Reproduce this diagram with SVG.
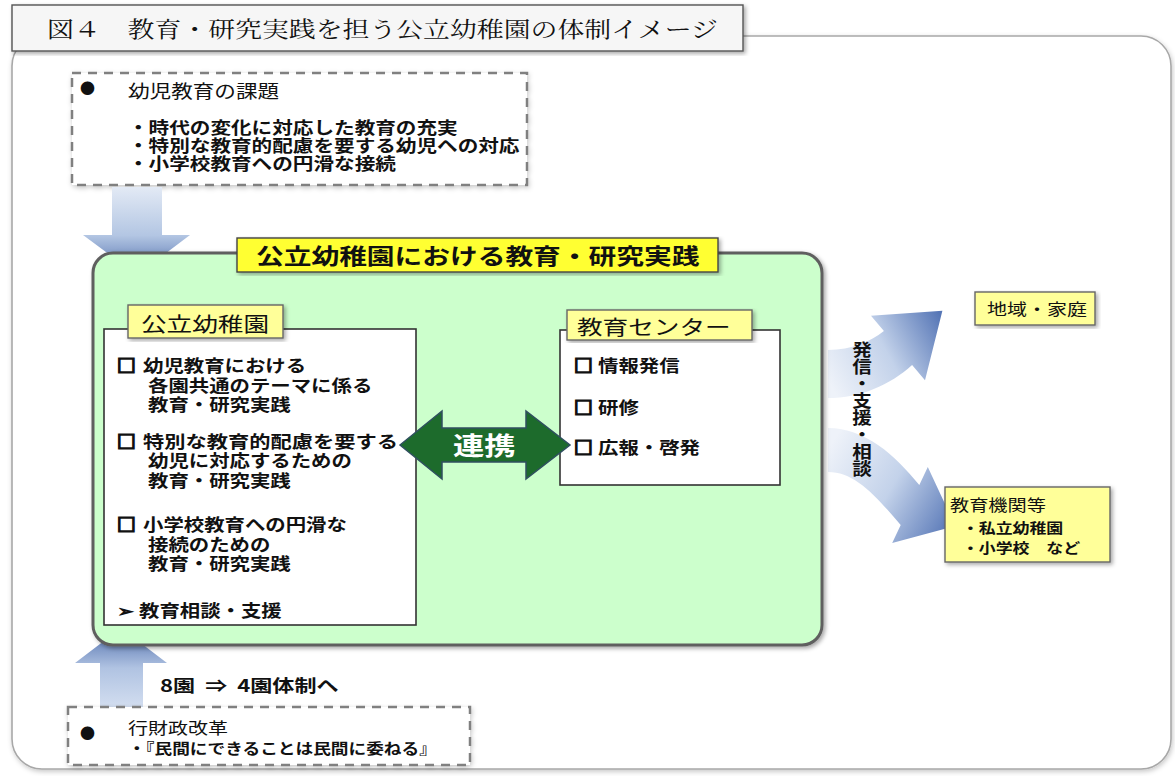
<svg xmlns="http://www.w3.org/2000/svg" width="1175" height="776" viewBox="0 0 1175 776">
<style>
.t{font-family:"Noto Sans CJK JP","Noto Sans",sans-serif;fill:#111}
.b{font-weight:bold}
.ttl{font-family:"Noto Serif CJK JP","Noto Sans CJK JP",serif;fill:#111;font-weight:normal}
.dash{fill:#fff;stroke:#808080;stroke-width:2.5;stroke-dasharray:9 7}
.wbox{fill:#fff;stroke:#333;stroke-width:1.6}
.ylab{fill:#ffff99;stroke:#666;stroke-width:1.4}
.sq{stroke:#111;stroke-width:1.6}
</style>
<defs>
<filter id="sh" x="-5%" y="-5%" width="110%" height="115%">
<feDropShadow dx="2" dy="2" stdDeviation="2" flood-color="#000" flood-opacity="0.35"/>
</filter>
<filter id="sh2" x="-5%" y="-5%" width="110%" height="115%">
<feDropShadow dx="1" dy="2" stdDeviation="2.5" flood-color="#000" flood-opacity="0.22"/>
</filter>
<linearGradient id="gDown" x1="0" y1="0" x2="0" y2="1">
<stop offset="0" stop-color="#e3eaf5"/>
<stop offset="0.55" stop-color="#b3c6e3"/>
<stop offset="1" stop-color="#4d6cab"/>
</linearGradient>
<linearGradient id="gUp" x1="0" y1="1" x2="0" y2="0">
<stop offset="0" stop-color="#d3def0"/>
<stop offset="0.5" stop-color="#b0c3e2"/>
<stop offset="1" stop-color="#4d6cab"/>
</linearGradient>
<linearGradient id="gR1" gradientUnits="userSpaceOnUse" x1="828" y1="380" x2="942" y2="318">
<stop offset="0" stop-color="#eef2f9"/>
<stop offset="0.5" stop-color="#c3d2ea"/>
<stop offset="1" stop-color="#5676b6"/>
</linearGradient>
<linearGradient id="gR2" gradientUnits="userSpaceOnUse" x1="828" y1="450" x2="955" y2="525">
<stop offset="0" stop-color="#eef2f9"/>
<stop offset="0.5" stop-color="#c3d2ea"/>
<stop offset="1" stop-color="#5676b6"/>
</linearGradient>
</defs>

<rect x="0" y="0" width="1175" height="776" fill="#fff"/>

<g id="frame">
<rect x="12" y="36" width="1159" height="733" rx="30" fill="#fff" stroke="#a8a8a8" stroke-width="1.6" filter="url(#sh2)"/>
</g>

<g id="title">
<rect x="12" y="5" width="731" height="46" fill="#f6f6f6" stroke="#555" stroke-width="1.4" filter="url(#sh)"/>
<text class="ttl" font-size="21.5" transform="translate(47,37) scale(1.25,1)">図４　教育・研究実践を担う公立幼稚園の体制イメージ</text>
</g>

<g id="issues">
<rect class="dash" x="72" y="73" width="455" height="112" filter="url(#sh2)"/>
<text class="t" font-size="15" x="80" y="94">●</text>
<text class="t" font-size="18" transform="translate(128,98) scale(1.2,1)">幼児教育の課題</text>
<text class="t b" font-size="16.5" transform="translate(128,134) scale(1.25,1)">・時代の変化に対応した教育の充実</text>
<text class="t b" font-size="16.5" transform="translate(128,152) scale(1.25,1)">・特別な教育的配慮を要する幼児への対応</text>
<text class="t b" font-size="16.5" transform="translate(128,170) scale(1.25,1)">・小学校教育への円滑な接続</text>
</g>

<g id="connectors">
<path d="M112,187 L162,187 L162,235 L190,235 L137,275 L83,235 L112,235 Z" fill="url(#gDown)"/>
<path d="M100,708 L143,708 L143,663 L167,663 L121,628 L75,663 L100,663 Z" fill="url(#gUp)"/>
<path d="M828,350 C852,350 870,342 883.9,331.1 L871,315.8 L942.4,310.7 L925,380.2 L912.1,364.9 C890,385 860,398 828,398 Z" fill="url(#gR1)"/>
<path d="M828,428 C865,428 895,455 919.3,485.1 L927.8,466.9 L955.3,526.1 L892.2,543.1 L900.7,524.9 C875,495 855,472 828,472 Z" fill="url(#gR2)"/>
</g>

<g id="practice">
<rect x="93" y="253" width="729" height="392" rx="20" fill="#ccffcc" stroke="#5e5e5e" stroke-width="3" filter="url(#sh)"/>
<rect x="237" y="238" width="481" height="34" fill="#ffff33" stroke="#444" stroke-width="1.4" filter="url(#sh)"/>
<text class="t b" font-size="22" transform="translate(256,264) scale(1.26,1)">公立幼稚園における教育・研究実践</text>
</g>

<g id="kindergarten">
<rect class="wbox" x="104" y="329" width="312" height="296"/>
<rect class="ylab" x="128" y="305" width="155" height="33" filter="url(#sh)"/>
<text class="t" font-size="20.5" transform="translate(141,332) scale(1.25,1)">公立幼稚園</text>
<g class="t b" font-size="17">
<text class="sq" transform="translate(117,372) scale(1.1,1)">□</text>
<text transform="translate(143,372) scale(1.2,1)">幼児教育における</text>
<text transform="translate(148,392) scale(1.2,1)">各園共通のテーマに係る</text>
<text transform="translate(148,411) scale(1.2,1)">教育・研究実践</text>
<text class="sq" transform="translate(117,448) scale(1.1,1)">□</text>
<text transform="translate(143,448) scale(1.25,1)">特別な教育的配慮を要する</text>
<text transform="translate(148,467) scale(1.2,1)">幼児に対応するための</text>
<text transform="translate(148,487) scale(1.2,1)">教育・研究実践</text>
<text class="sq" transform="translate(117,531) scale(1.1,1)">□</text>
<text transform="translate(143,531) scale(1.2,1)">小学校教育への円滑な</text>
<text transform="translate(148,551) scale(1.2,1)">接続のための</text>
<text transform="translate(148,570) scale(1.2,1)">教育・研究実践</text>
<text transform="translate(117,617) scale(1.2,1)">➢ 教育相談・支援</text>
</g>
</g>

<g id="center">
<rect class="wbox" x="560" y="330" width="220" height="155"/>
<rect class="ylab" x="567" y="310" width="185" height="30" filter="url(#sh)"/>
<text class="t" font-size="20.5" transform="translate(577,335) scale(1.25,1)">教育センター</text>
<g class="t b" font-size="17">
<text class="sq" transform="translate(574,372) scale(1.1,1)">□</text>
<text transform="translate(598,372) scale(1.2,1)">情報発信</text>
<text class="sq" transform="translate(574,414) scale(1.1,1)">□</text>
<text transform="translate(598,414) scale(1.2,1)">研修</text>
<text class="sq" transform="translate(574,454) scale(1.1,1)">□</text>
<text transform="translate(598,454) scale(1.2,1)">広報・啓発</text>
</g>
</g>

<g id="renkei">
<path d="M400,445 L442,411 L442,428 L526,428 L526,411 L570,445 L526,479 L526,462 L442,462 L442,479 Z" fill="#1d6b2c" stroke="#2f4f5f" stroke-width="1.5"/>
<text class="t b" font-size="25" style="fill:#fff" transform="translate(453,455) scale(1.25,1)">連携</text>
</g>

<g id="outreach">
<text class="t b" font-size="17" style="writing-mode:vertical-rl" transform="translate(862,341) scale(1.15,1)">発信・支援・相談</text>
</g>

<g id="community">
<rect class="ylab" x="975" y="292" width="120" height="33" stroke="#555" filter="url(#sh)"/>
<text class="t" font-size="16" transform="translate(987,315) scale(1.25,1)">地域・家庭</text>
</g>

<g id="institutions">
<rect class="ylab" x="945" y="487" width="165" height="75" stroke="#555" filter="url(#sh)"/>
<text class="t" font-size="16" transform="translate(950,511) scale(1.2,1)">教育機関等</text>
<text class="t b" font-size="13.5" transform="translate(962,533) scale(1.25,1)">・私立幼稚園</text>
<text class="t b" font-size="13.5" transform="translate(962,553) scale(1.25,1)">・小学校　など</text>
</g>

<g id="reform">
<text class="t b" font-size="17" style="white-space:pre" transform="translate(160,692) scale(1.3,1)">8園  ⇒  4園体制へ</text>
<rect class="dash" x="68" y="707" width="402" height="58" filter="url(#sh2)"/>
<text class="t" font-size="15" x="80" y="739">●</text>
<text class="t" font-size="16" transform="translate(128,734) scale(1.25,1)">行財政改革</text>
<text class="t b" font-size="14.5" transform="translate(128,754) scale(1.22,1)">・『民間にできることは民間に委ねる』</text>
</g>
</svg>
